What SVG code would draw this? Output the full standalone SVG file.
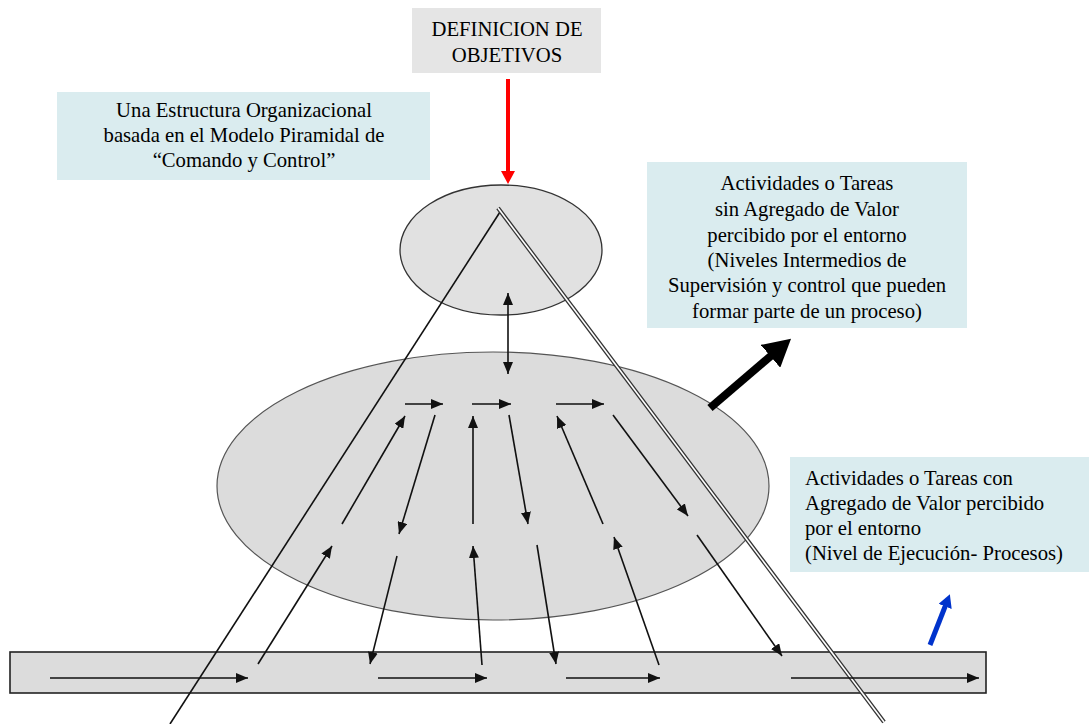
<svg xmlns="http://www.w3.org/2000/svg" width="1089" height="724" viewBox="0 0 1089 724">
<style>
.t{font-family:"Liberation Serif","Times New Roman",serif;font-size:20.7px;fill:#000}
.c{text-anchor:middle}
.thin{stroke:#111;stroke-width:1.6;fill:none;marker-end:url(#ah)}
.box{fill:#daecef}
</style>
<defs>
<marker id="ah" markerUnits="userSpaceOnUse" markerWidth="12" markerHeight="10" refX="12" refY="5" orient="auto" viewBox="0 0 12 10"><path d="M0,0 L12,5 L0,10 z" fill="#111"/></marker>
<marker id="ah2" markerUnits="userSpaceOnUse" markerWidth="12" markerHeight="10" refX="12" refY="5" orient="auto-start-reverse" viewBox="0 0 12 10"><path d="M0,0 L12,5 L0,10 z" fill="#111"/></marker>
<marker id="red" markerUnits="userSpaceOnUse" markerWidth="13" markerHeight="14" refX="1" refY="7" orient="auto" viewBox="0 0 13 14"><path d="M0,0 L13,7 L0,14 z" fill="#ff0000"/></marker>
<marker id="blk" markerUnits="userSpaceOnUse" markerWidth="27" markerHeight="30" refX="2" refY="15" orient="auto" viewBox="0 0 27 30"><path d="M0,0 L27,15 L0,30 z" fill="#000"/></marker>
<marker id="blu" markerUnits="userSpaceOnUse" markerWidth="13" markerHeight="14" refX="1" refY="7" orient="auto" viewBox="0 0 13 14"><path d="M0,0 L13,7 L0,14 z" fill="#0033cc"/></marker>
</defs>
<rect width="1089" height="724" fill="#fff"/>

<g id="objetivos">
<rect x="412" y="8" width="189" height="65" fill="#e5e5e5"/>
<text class="t c" x="507" y="36">DEFINICION DE</text>
<text class="t c" x="507" y="62">OBJETIVOS</text>
</g>

<g id="estructura">
<rect class="box" x="57" y="92" width="373" height="88"/>
<text class="t c" x="244" y="117">Una Estructura Organizacional</text>
<text class="t c" x="244" y="142">basada en el Modelo Piramidal de</text>
<text class="t c" x="244" y="167">“Comando y Control”</text>
</g>

<g id="sin-valor">
<rect class="box" x="647" y="162" width="320" height="166"/>
<text class="t c" x="807" y="190">Actividades o Tareas</text>
<text class="t c" x="807" y="216">sin Agregado de Valor</text>
<text class="t c" x="807" y="242">percibido por el entorno</text>
<text class="t c" x="807" y="267">(Niveles Intermedios de</text>
<text class="t c" x="807" y="292">Supervisión y control que pueden</text>
<text class="t c" x="807" y="318">formar parte de un proceso)</text>
</g>

<g id="con-valor">
<rect class="box" x="790" y="457" width="299" height="115"/>
<text class="t" x="805" y="485">Actividades o Tareas con</text>
<text class="t" x="805" y="510">Agregado de Valor percibido</text>
<text class="t" x="805" y="535">por el entorno</text>
<text class="t" x="805" y="560">(Nivel de Ejecución- Procesos)</text>
</g>

<g id="nivel-superior">
<ellipse cx="501" cy="250" rx="101" ry="65" fill="#e1e1e1" stroke="#333" stroke-width="1.3"/>
</g>

<g id="nivel-intermedio">
<ellipse cx="493" cy="486" rx="276" ry="134" fill="#dcdcdc" stroke="#555" stroke-width="1.2"/>
</g>

<g id="nivel-ejecucion">
<rect x="10" y="652" width="976" height="41" fill="#dcdcdc" stroke="#222" stroke-width="1.6"/>
</g>

<g id="piramide">
<line x1="500" y1="212" x2="170" y2="724" stroke="#111" stroke-width="1.6"/>
<line x1="498" y1="208" x2="884" y2="722" stroke="#333" stroke-width="4.2"/>
<line x1="498" y1="208" x2="884" y2="722" stroke="#fff" stroke-width="1.6"/>
</g>

<g id="conectores">
<line x1="508" y1="79" x2="508" y2="172" stroke="#ff0000" stroke-width="4" marker-end="url(#red)"/>
<line x1="508" y1="293" x2="508" y2="374" stroke="#111" stroke-width="1.6" marker-start="url(#ah2)" marker-end="url(#ah2)"/>
<line x1="710" y1="408" x2="772" y2="355" stroke="#000" stroke-width="8" marker-end="url(#blk)"/>
<line x1="930" y1="645" x2="945.5" y2="605.5" stroke="#0033cc" stroke-width="5" marker-end="url(#blu)"/>

<line class="thin" x1="405" y1="404" x2="443" y2="404"/>
<line class="thin" x1="472" y1="404" x2="511" y2="404"/>
<line class="thin" x1="556" y1="404" x2="604" y2="404"/>

<line class="thin" x1="342" y1="524" x2="405" y2="416"/>
<line class="thin" x1="435" y1="415" x2="399" y2="534"/>
<line class="thin" x1="473" y1="524" x2="473" y2="416"/>
<line class="thin" x1="509" y1="415" x2="528" y2="524"/>
<line class="thin" x1="603" y1="524" x2="557" y2="416"/>
<line class="thin" x1="613" y1="415" x2="688" y2="516"/>

<line class="thin" x1="258" y1="664" x2="332" y2="546"/>
<line class="thin" x1="397" y1="556" x2="370" y2="664"/>
<line class="thin" x1="482" y1="665" x2="473" y2="546"/>
<line class="thin" x1="537" y1="545" x2="556" y2="664"/>
<line class="thin" x1="659" y1="665" x2="614" y2="537"/>
<line class="thin" x1="697" y1="535" x2="782" y2="656"/>

<line class="thin" x1="50" y1="678" x2="248" y2="678"/>
<line class="thin" x1="378" y1="678" x2="487" y2="678"/>
<line class="thin" x1="566" y1="678" x2="660" y2="678"/>
<line class="thin" x1="791" y1="678" x2="979" y2="678"/>
</g>
</svg>
